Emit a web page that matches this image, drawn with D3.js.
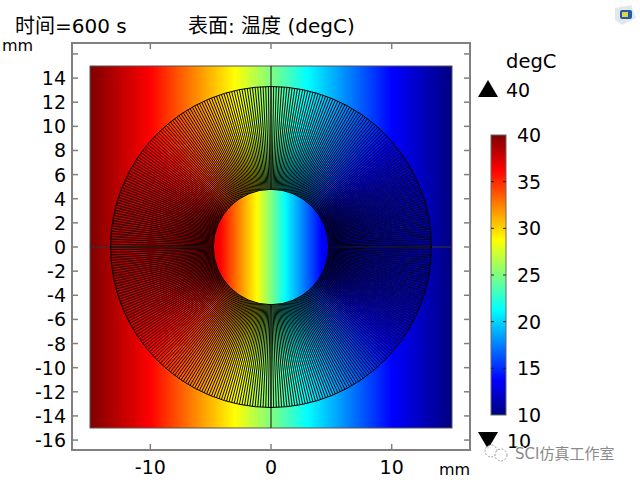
<!DOCTYPE html>
<html>
<head>
<meta charset="utf-8">
<script src="https://cdn.jsdelivr.net/npm/d3@7"></script>
<style>
  html, body { margin: 0; padding: 0; background: #fff; }
  text { font-family: "DejaVu Sans", "Noto Sans CJK SC", sans-serif; fill: #000; }
</style>
</head>
<body>
<script>
// tick labels
const xTicks = [-10, 0, 10];
const yTicks = [-16, -14, -12, -10, -8, -6, -4, -2, 0, 2, 4, 6, 8, 10, 12, 14, 16];
const yLabels = [-16, -14, -12, -10, -8, -6, -4, -2, 0, 2, 4, 6, 8, 10, 12, 14];
const barTicks = [10, 15, 20, 25, 30, 35, 40];

// rainbow colour table, temperature -> colour
const tempStops = [10, 13.75, 21.25, 25, 28.75, 36.25, 40];
const tempColors = ["#00007f", "#0000ff", "#00ffff", "#7fff7f", "#ffff00", "#ff0000", "#7f0000"];

// temperature read across the square and across the tube, at y = anything
const outerXs = [-15, -10, -3, 0, 3, 10, 15];
const outerTs = [40, 36.25, 28.75, 25, 21.25, 13.75, 10];
const innerXs = [-4.78, -4.2, -1.17, 0, 1.17, 4.2, 4.78];
const innerTs = [37, 36.25, 28.75, 25, 21.25, 13.75, 13];

// geometry, in mm
const innerR = 4.78;
const outerR = 13.3;
const meshLines = 380;

const width = 640, height = 480;

const x = d3.scaleLinear().domain([-15, 15]).range([90, 452]);
const y = d3.scaleLinear().domain([-15, 15]).range([428, 66]);
const color = d3.scaleLinear().domain(tempStops).range(tempColors).clamp(true);
const barY = d3.scaleLinear().domain([10, 40]).range([415, 135]);
const outerT = d3.scaleLinear().domain(outerXs).range(outerTs);
const innerT = d3.scaleLinear().domain(innerXs).range(innerTs);

const svg = d3.select("body").append("svg")
    .attr("width", width)
    .attr("height", height)
    .style("display", "block");

// temperature field is painted to an offscreen canvas and placed as an image
function temperature(mx, my) {
    const r = Math.hypot(mx, my);
    if (r <= innerR) return innerT(mx);
    if (r >= outerR) return outerT(mx);
    const f = (r - innerR) / (outerR - innerR);
    const c = mx / r;
    return (1 - f) * innerT(innerR * c) + f * outerT(outerR * c);
}

const fieldSize = x(15) - x(-15);
const canvas = document.createElement("canvas");
canvas.width = fieldSize;
canvas.height = fieldSize;
const ctx = canvas.getContext("2d");
for (let i = 0; i < fieldSize; i++) {
    for (let j = 0; j < fieldSize; j++) {
        ctx.fillStyle = color(temperature(x.invert(x(-15) + i + 0.5), y.invert(y(15) + j + 0.5)));
        ctx.fillRect(i, j, 1, 1);
    }
}
svg.append("image")
    .attr("x", x(-15))
    .attr("y", y(15))
    .attr("width", fieldSize)
    .attr("height", fieldSize)
    .attr("href", canvas.toDataURL());

// square outline and the symmetry lines, these stop at the tube
svg.append("rect")
    .attr("x", x(-15))
    .attr("y", y(15))
    .attr("width", fieldSize)
    .attr("height", fieldSize)
    .attr("fill", "none")
    .attr("stroke", "#555")
    .attr("stroke-width", 1);

const cross = [[-15, 0, -innerR, 0], [innerR, 0, 15, 0], [0, -15, 0, -innerR], [0, innerR, 0, 15]];
svg.append("g").selectAll("line")
    .data(cross)
    .join("line")
    .attr("x1", d => x(d[0]))
    .attr("y1", d => y(d[1]))
    .attr("x2", d => x(d[2]))
    .attr("y2", d => y(d[3]))
    .attr("stroke", "#333")
    .attr("stroke-opacity", 0.8)
    .attr("stroke-width", 1.5);

// radial mesh lines, thin and antialiased so the hatch stays fine
const rScale = d3.scaleLinear().domain([0, 15]).range([0, x(15) - x(0)]);
const mesh = svg.append("g");
mesh.selectAll("line")
    .data(d3.range(meshLines))
    .join("line")
    .attr("x1", d => x(0) + rScale(innerR) * Math.cos(d / meshLines * 2 * Math.PI))
    .attr("y1", d => y(0) + rScale(innerR) * Math.sin(d / meshLines * 2 * Math.PI))
    .attr("x2", d => x(0) + rScale(outerR) * Math.cos(d / meshLines * 2 * Math.PI))
    .attr("y2", d => y(0) + rScale(outerR) * Math.sin(d / meshLines * 2 * Math.PI))
    .attr("stroke", "#000")
    .attr("stroke-width", 0.95);

svg.append("g").selectAll("circle")
    .data([innerR, outerR])
    .join("circle")
    .attr("cx", x(0))
    .attr("cy", y(0))
    .attr("r", d => rScale(d))
    .attr("fill", "none")
    .attr("stroke", "#000")
    .attr("stroke-width", 1);

// frame and ticks
const frame = { left: 72, right: 470, top: 43, bottom: 450 };
const gray = "#808080";
svg.append("rect")
    .attr("x", frame.left)
    .attr("y", frame.top)
    .attr("width", frame.right - frame.left)
    .attr("height", frame.bottom - frame.top)
    .attr("fill", "none")
    .attr("stroke", gray)
    .attr("stroke-width", 2);

const tickLen = 6;
const tickG = svg.append("g").attr("stroke", gray).attr("stroke-width", 1.5);
xTicks.forEach(t => {
    tickG.append("line").attr("x1", x(t)).attr("x2", x(t)).attr("y1", frame.top).attr("y2", frame.top + tickLen);
    tickG.append("line").attr("x1", x(t)).attr("x2", x(t)).attr("y1", frame.bottom).attr("y2", frame.bottom - tickLen);
});
yTicks.forEach(t => {
    tickG.append("line").attr("y1", y(t)).attr("y2", y(t)).attr("x1", frame.left).attr("x2", frame.left + tickLen);
    tickG.append("line").attr("y1", y(t)).attr("y2", y(t)).attr("x1", frame.right).attr("x2", frame.right - tickLen);
});

svg.append("g").selectAll("text")
    .data(xTicks)
    .join("text")
    .attr("x", d => x(d))
    .attr("y", 474)
    .attr("text-anchor", "middle")
    .attr("font-size", 19)
    .text(d => d);

svg.append("g").selectAll("text")
    .data(yLabels)
    .join("text")
    .attr("x", 66)
    .attr("y", d => y(d) + 7)
    .attr("text-anchor", "end")
    .attr("font-size", 19)
    .text(d => d);

// titles and units
const labels = [
    { t: "时间=600 s", x: 15, y: 33, s: 20 },
    { t: "表面: 温度 (degC)", x: 188, y: 33, s: 20 },
    { t: "mm", x: 2, y: 51, s: 16 },
    { t: "mm", x: 439, y: 475, s: 16 },
    { t: "degC", x: 506, y: 68, s: 19.5 },
    { t: "40", x: 506, y: 97, s: 19 },
    { t: "10", x: 507, y: 448, s: 19 }
];
svg.append("g").selectAll("text")
    .data(labels)
    .join("text")
    .attr("x", d => d.x)
    .attr("y", d => d.y)
    .attr("font-size", d => d.s)
    .text(d => d.t);

// max and min markers
svg.append("path").attr("d", "M488,80L498,97L478,97Z").attr("fill", "#000");
svg.append("path").attr("d", "M478,432L498,432L488,449Z").attr("fill", "#000");

// colour bar
const defs = svg.append("defs");
const grad = defs.append("linearGradient")
    .attr("id", "bar")
    .attr("x1", 0).attr("x2", 0).attr("y1", 1).attr("y2", 0);
grad.selectAll("stop")
    .data(tempStops)
    .join("stop")
    .attr("offset", d => (d - 10) / 30)
    .attr("stop-color", d => color(d));

svg.append("rect")
    .attr("x", 491)
    .attr("y", barY(40))
    .attr("width", 15)
    .attr("height", barY(10) - barY(40))
    .attr("fill", "url(#bar)")
    .attr("stroke", "#666")
    .attr("stroke-width", 1);

const barTickG = svg.append("g").attr("stroke", "#222").attr("stroke-width", 1);
barTicks.slice(1, -1).forEach(t => {
    barTickG.append("line").attr("x1", 491).attr("x2", 494).attr("y1", barY(t)).attr("y2", barY(t));
    barTickG.append("line").attr("x1", 503).attr("x2", 506).attr("y1", barY(t)).attr("y2", barY(t));
});

svg.append("g").selectAll("text")
    .data(barTicks)
    .join("text")
    .attr("x", 517)
    .attr("y", d => barY(d) + 7)
    .attr("font-size", 19)
    .text(d => d);

// small logo, top right
svg.append("path")
    .attr("d", "M615,8L631,5L636,18L622,25L615,20Z")
    .attr("fill", "#e4e6e8");
svg.append("rect")
    .attr("x", 620).attr("y", 10).attr("width", 12).attr("height", 9).attr("rx", 2)
    .attr("fill", "#1f5fa8");
svg.append("rect")
    .attr("x", 622).attr("y", 12).attr("width", 6).attr("height", 5)
    .attr("fill", "#e6d24a");

// watermark, speech bubbles plus name
const bubbles = [[491, 451, 6], [501, 455, 6]];
svg.append("g").selectAll("circle")
    .data(bubbles)
    .join("circle")
    .attr("cx", d => d[0])
    .attr("cy", d => d[1])
    .attr("r", d => d[2])
    .attr("fill", "#fff")
    .attr("fill-opacity", 0.85)
    .attr("stroke", "#888")
    .attr("stroke-dasharray", "2 1.5")
    .attr("stroke-width", 0.8);

svg.append("text")
    .attr("x", 515)
    .attr("y", 459)
    .attr("font-size", 15)
    .attr("paint-order", "stroke")
    .attr("stroke", "#fff")
    .attr("stroke-width", 2)
    .style("fill", "#8a8a8a")
    .text("SCI仿真工作室");
</script>
</body>
</html>
